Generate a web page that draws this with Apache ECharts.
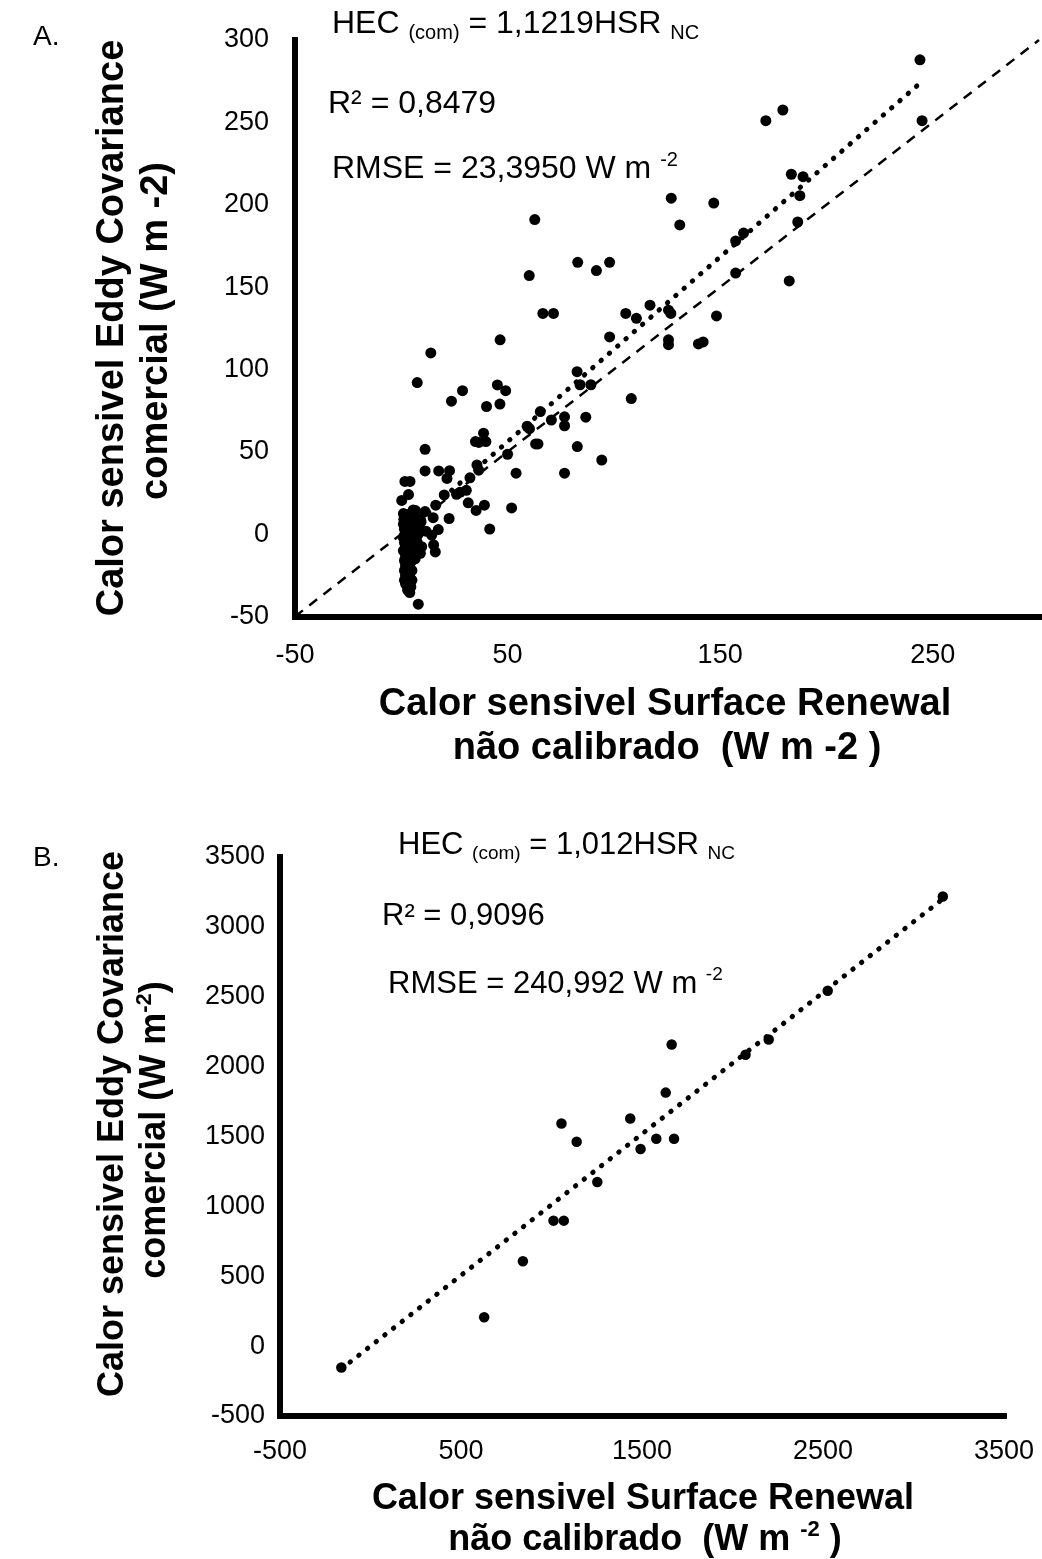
<!DOCTYPE html>
<html><head><meta charset="utf-8">
<script src="https://cdn.jsdelivr.net/npm/echarts@6/dist/echarts.min.js"></script>
<style>html,body{margin:0;padding:0;background:#fff}#c{width:1042px;height:1559px}</style>
</head><body><div id="c"></div>
<script>
// ---------------- DATA ----------------
// Panel A: [Surface Renewal (x), Eddy Covariance (y)]
const panelA_points = [
  [244,288],[245,251],[171.5,251],[179.5,257.5],[183.5,218.5],[189,217],[187.5,205.5],[186.5,189.5],[182.5,153.7],
  [127,204],[147,201],[131,187.7],[62.8,191],[161,182.8],[157.3,178],[157.3,158.5],[83,165],[91.8,160],[98,165],[60.2,157],
  [66.6,134],[71.6,134],[105.6,134],[110.6,131],[117,139],[125.7,136],[126.8,134],[148.3,132.5],[125.7,118],[125.7,115],
  [139.8,115.5],[142,116.7],[98,119.7],[46.5,118],[13.9,110],[7.5,92],[82.7,98.6],[84.1,90.7],[89.2,90.7],[108.2,82.3],
  [45.2,90.6],[49.1,87.1],[28.8,87.1],[23.6,80.7],[40.1,77.5],[46.4,79],[76.8,71.2],[76.8,65.8],[86.8,71],[70.6,69.3],
  [65.4,74.4],[59.2,65.5],[60.3,64],[63.2,54.8],[64.3,54.8],[82.8,53.2],[94.3,45],[76.8,37],[54,37],[50,48.5],
  [38.7,61.3],[34.9,56.2],[36.5,55.7],[39.8,56.2],[35.6,42],[36.4,38.8],[32.3,34.2],[39.1,17.6],[31.5,19],[35.2,14.4],
  [51.9,15.9],[41.6,3.1],[27.6,25.4],[30.6,26.6],[26,24.2],[22.7,38.5],[21.5,33.8],[17.6,38.4],[11.2,38.4],[11.2,51.5],
  [22.5,9.5],[16.2,17.6],[15,10],[17.4,2.8],[14.3,-0.6],[15.2,-6.5],[16,-10.8],[9,-11.6],[8,-42.5],
  [1.7,32],[4.1,32],[0.2,20.5],[3.4,24],[5.6,14.7],[11.2,13.7],[20.2,23.8],[9.6,-7.6],[6.6,14.4],[9.3,7.5],[11.6,1.8],
  [1.2,9],[2.5,8],[4,9.5],[5.5,8],[7,7],[1,6],[3,5],[5,6],[6.5,4],[8,5],
  [1.5,3],[3.5,2],[5,3],[7,2],[2,0],[4,-0.5],[6,1],[1,-2],[3,-3],[5,-2],
  [7,-3],[1.5,-5],[3.5,-6],[5.5,-5],[2,-8],[4,-9],[6,-8],[1,-10],[3,-11],[5,-12],
  [2,-13],[4,-14],[1.5,-16],[3.5,-17],[5,-16],[2,-19],[4,-20],[1.5,-22],[3,-23],[5,-22],
  [2,-25],[4,-26],[1.5,-28],[3.5,-29],[2.5,-31],[4.5,-32],[3,-34],[4,-35.5],[2,-30],[5,-28],
  [6,-12],[6.5,-15],[7,-9],[7.5,-5],[8,0],[8.5,3],[9,9],[6,11],[3,12],[1,12.5]
];
const panelA_slope = 1.1219;          // HEC(com) = 1,1219 HSR_NC
const panelA_oneToOne = [-50, 300];   // 1:1 reference line extent

// Panel B
const panelB_points = [
  [-161,-153],[628,206],[842,607],[1011,898],[1068,898],[1253,1174],[1055,1593],[1139,1463],[1435,1629],
  [1492,1411],[1579,1484],[1677,1484],[1631,1814],[1664,2158],[2072,2085],[2200,2194],[2526,2543],[3162,3217]
];
const panelB_slope = 1.012;           // HEC(com) = 1,012 HSR_NC

// Axis ranges / ticks
const axisA_x = {min:-50, max:300, interval:100};
const axisA_y = {min:-50, max:300, interval:50};
const axisB_x = {min:-500, max:3500, interval:1000};
const axisB_y = {min:-500, max:3500, interval:500};

// ---------------- CHART ----------------
const FONT = "'Liberation Sans', Arial, sans-serif";
function trend(points, slope){
  const xs = points.map(p => p[0]);
  const lo = Math.min(...xs), hi = Math.max(...xs);
  return [[lo, slope*lo],[hi, slope*hi]];
}
const axisCommon = (r, grid, margin, extraLabel) => ({
  type:'value', gridIndex:grid, min:r.min, max:r.max, interval:r.interval,
  axisLine:{show:true, onZero:false, lineStyle:{color:'#000', width:6, cap:'square'}},
  axisTick:{show:false}, splitLine:{show:false},
  axisLabel:Object.assign({color:'#000', fontSize:27, fontFamily:FONT, margin:margin,
    formatter:v => String(v)}, extraLabel||{})
});

function t(x,y,text,o){
  o = o||{};
  return {type:'text', x:x, y:y, rotation:o.rot||0, scaleX:o.sx||1, scaleY:1,
    style:{text:text, fill:'#000', font:(o.bold?'bold ':'')+(o.size||32)+'px '+FONT,
      align:o.align||'left', verticalAlign:'middle', textAlign:o.align||'left', textVerticalAlign:'middle',
      rich:o.rich}};
}
function richSet(size, bold){
  const w = bold ? 'bold' : 'normal';
  const small = Math.round(size*0.62);
  return {
    m:{fontSize:size, fontFamily:FONT, fontWeight:w, lineHeight:size+6, fill:'#000', verticalAlign:'middle'},
    s:{fontSize:small, fontFamily:FONT, fontWeight:w, lineHeight:small, fill:'#000', verticalAlign:'bottom'},
    p:{fontSize:small, fontFamily:FONT, fontWeight:w, lineHeight:small, fill:'#000', verticalAlign:'top'}
  };
}

const option = {
  animation:false,
  backgroundColor:'#fff',
  grid:[
    {left:295, right:3, top:40, bottom:942.5},
    {left:280, right:38, top:857, bottom:143}
  ],
  xAxis:[
    axisCommon(axisA_x, 0, 26, {showMaxLabel:false}),
    axisCommon(axisB_x, 1, 22)
  ],
  yAxis:[
    axisCommon(axisA_y, 0, 26),
    axisCommon(axisB_y, 1, 15)
  ],
  series:[
    {type:'line', xAxisIndex:0, yAxisIndex:0, data:[[panelA_oneToOne[0],panelA_oneToOne[0]],[panelA_oneToOne[1],panelA_oneToOne[1]]],
      showSymbol:false, symbol:'none', lineStyle:{color:'#000', width:2.5, type:[10,8]}, z:1},
    {type:'scatter', xAxisIndex:0, yAxisIndex:0, data:panelA_points, symbolSize:11, itemStyle:{color:'#000', opacity:1}, z:2},
    {type:'line', xAxisIndex:0, yAxisIndex:0, data:trend(panelA_points, panelA_slope), showSymbol:false, symbol:'none',
      lineStyle:{color:'#000', width:5, type:[0.5,10.5], cap:'round'}, z:3},
    {type:'scatter', xAxisIndex:1, yAxisIndex:1, data:panelB_points, symbolSize:10.5, itemStyle:{color:'#000', opacity:1}, z:2},
    {type:'line', xAxisIndex:1, yAxisIndex:1, data:trend(panelB_points, panelB_slope), showSymbol:false, symbol:'none',
      lineStyle:{color:'#000', width:5, type:[0.5,10.5], cap:'round'}, z:3}
  ],
  graphic:[
    t(33,37,'A.',{size:28}),
    t(332,24,'{m|HEC }{s|(com)}{m| = 1,1219HSR }{s|NC}',{rich:richSet(32,false)}),
    t(328,104,'R² = 0,8479',{size:32}),
    t(332,169,'{m|RMSE = 23,3950 W m }{p|-2}',{rich:richSet(32,false)}),
    t(113,328,'Calor sensivel Eddy Covariance',{bold:true, size:38, rot:Math.PI/2, align:'center'}),
    t(157,331,'comercial (W m -2)',{bold:true, size:38, rot:Math.PI/2, align:'center'}),
    t(665,705,'Calor sensivel Surface Renewal',{bold:true, size:38, align:'center'}),
    t(667,749,'não calibrado  (W m -2 )',{bold:true, size:38, align:'center'}),

    t(33,858,'B.',{size:28}),
    t(398,845,'{m|HEC }{s|(com)}{m| = 1,012HSR }{s|NC}',{rich:richSet(31,false)}),
    t(382,916,'R² = 0,9096',{size:31}),
    t(388,984,'{m|RMSE = 240,992 W m }{p|-2}',{rich:richSet(31,false)}),
    t(113,1124,'Calor sensivel Eddy Covariance',{bold:true, size:36, rot:Math.PI/2, align:'center'}),
    t(155,1130,'{m|comercial (W m}{p|-2}{m|)}',{bold:true, size:36, rot:Math.PI/2, align:'center', rich:richSet(36,true)}),
    t(643,1499,'Calor sensivel Surface Renewal',{bold:true, size:36, align:'center'}),
    t(645,1540,'{m|não calibrado  (W m }{p|-2}{m| )}',{bold:true, size:36, align:'center', rich:richSet(36,true)})
  ]
};
const chart = echarts.init(document.getElementById('c'), null, {renderer:'canvas'});
chart.setOption(option);
</script>
</body></html>
